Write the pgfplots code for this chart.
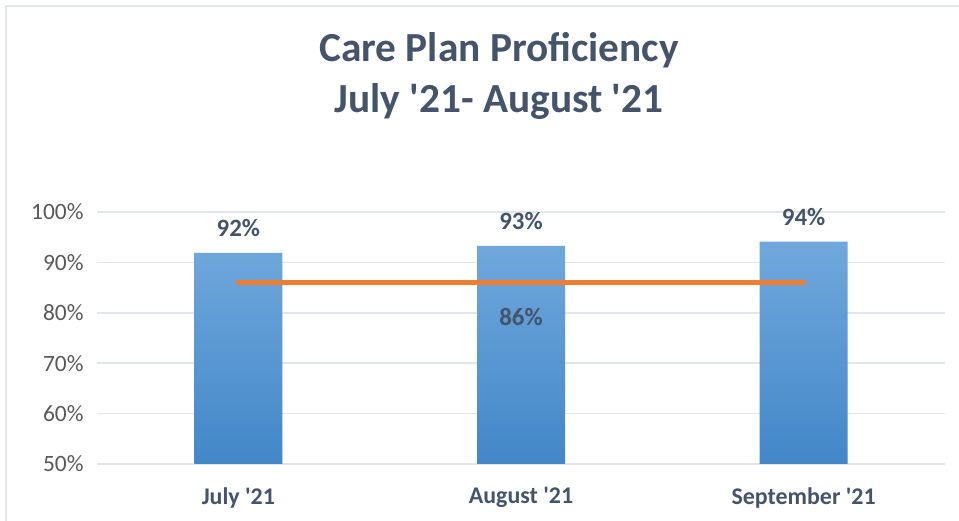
\documentclass[border=0pt]{standalone}
\usepackage{fontspec}
\setmainfont{Carlito}
\usepackage{pgfplots}
\pgfplotsset{compat=1.18}
\definecolor{titlec}{HTML}{44546A}
\definecolor{tickc}{HTML}{595959}
\definecolor{gridc}{HTML}{E1E5EC}
\definecolor{barTop}{HTML}{70A8DC}
\definecolor{barBot}{HTML}{4287C8}
\definecolor{orangec}{HTML}{ED7D31}
\newcommand{\q}{\textquotesingle}
\begin{document}
\begin{tikzpicture}
\useasboundingbox (0bp,0bp) rectangle (959bp,521bp);
\fill[white] (0bp,0bp) rectangle (959bp,521bp);
\draw[gridc, line width=2bp] (6bp,0bp) -- (6bp,515bp) -- (959bp,515bp);
\node[font=\fontsize{41.5}{52}\selectfont\bfseries, text=titlec, align=center] at (499bp,445bp) {Care Plan Proficiency\\July \q21- August \q21};
\begin{axis}[
  at={(97bp,57bp)}, anchor=south west,
  scale only axis, width=848bp, height=252bp,
  xmin=-0.5, xmax=2.5, ymin=50, ymax=100,
  xtick={0,1,2}, xticklabels={July \q21, August \q21, September \q21},
  ytick={50,60,...,100},
  yticklabel={\pgfmathprintnumber{\tick}\%},
  /pgf/number format/assume math mode=true,
  major tick length=0pt,
  axis line style={draw=none},
  ymajorgrids, grid style={gridc, line width=1.5bp},
  yticklabel style={font=\fontsize{23.5}{26}\selectfont, text=tickc, xshift=-10bp},
  xticklabel style={font=\fontsize{24}{26}\selectfont\bfseries, text=titlec, yshift=-20bp},
  clip=false,
]
\addplot[ybar, bar width=88bp, draw=none, top color=barTop, bottom color=barBot,
  nodes near coords={\pgfmathprintnumber[precision=0]{\pgfplotspointmeta}\%},
  every node near coord/.append style={font=\fontsize{25}{28}\selectfont\bfseries, text=titlec, yshift=13bp},
  point meta=explicit]
  coordinates {(0,91.9) [92] (1,93.3) [93] (2,94.1) [94]};
\addplot[orangec, line width=5bp, line cap=round] coordinates {(0,86) (1,86) (2,86)};
\node[font=\fontsize{25}{28}\selectfont\bfseries, text=titlec] at (axis cs:1,86) [yshift=-34bp] {86\%};
\end{axis}
\end{tikzpicture}
\end{document}
